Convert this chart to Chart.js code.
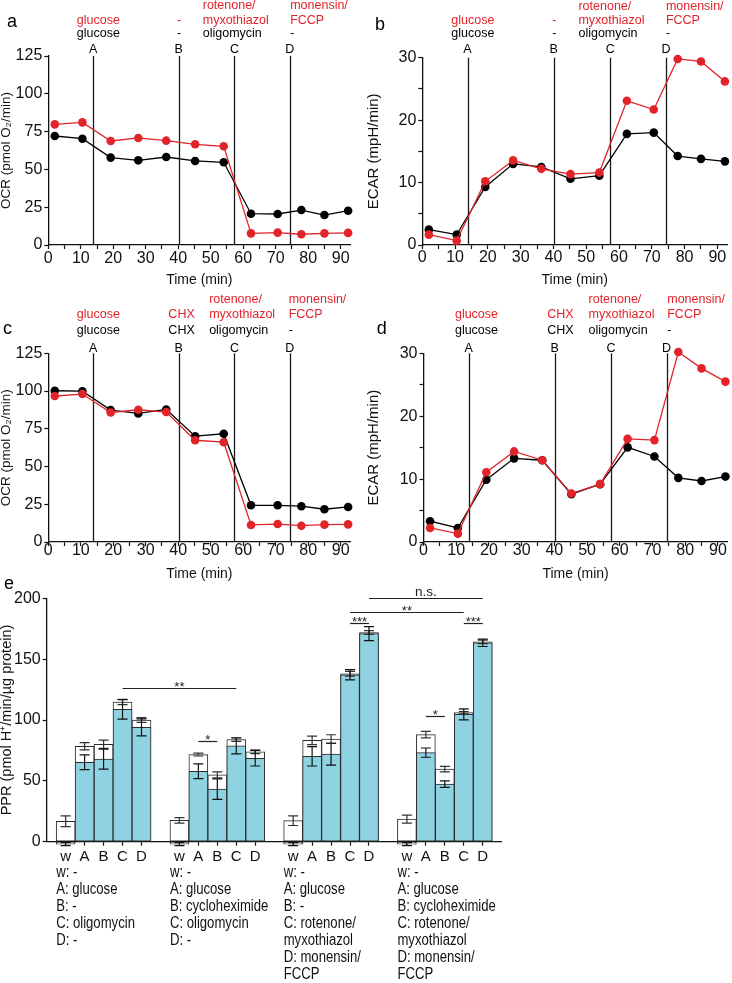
<!DOCTYPE html>
<html><head><meta charset="utf-8"><title>OCR / ECAR / PPR</title>
<script src="https://cdn.jsdelivr.net/npm/chart.js@4.4.1/dist/chart.umd.min.js"></script>
<style>
html,body{margin:0;padding:0;background:#fff}
body{width:732px;height:983px;position:relative;overflow:hidden}
canvas{position:absolute;display:block}
</style></head><body>
<canvas id="ca" width="366" height="290" style="left:0;top:0"></canvas>
<canvas id="cb" width="366" height="290" style="left:366px;top:0"></canvas>
<canvas id="cc" width="366" height="300" style="left:0;top:290px"></canvas>
<canvas id="cd" width="366" height="300" style="left:366px;top:290px"></canvas>
<canvas id="ce" width="732" height="409" style="left:0;top:574px"></canvas>
<script>
// ---------------- data ----------------
const sampleTimes = [2.0, 10.5, 19.2, 27.7, 36.3, 45.2, 54.0, 62.4, 70.6, 77.9, 85.0, 92.3];
const injectionTimes = [13.8, 40.1, 57.3, 74.3];
const injectionPorts = ['A', 'B', 'C', 'D'];

// panel a (OCR)
const ocrOligo_a   = [72.1, 70.3, 57.8, 56.0, 58.2, 55.6, 54.7, 20.7, 20.5, 23.1, 19.8, 22.7];
const ocrRotMyx_a  = [79.8, 81.1, 68.8, 70.8, 69.0, 66.6, 65.3, 7.7, 8.2, 7.1, 7.7, 8.0];
// panel b (ECAR)
const ecarOligo_b  = [2.46, 1.66, 9.3, 13.0, 12.5, 10.6, 11.1, 17.8, 18.0, 14.25, 13.8, 13.4];
const ecarRotMyx_b = [1.66, 0.7, 10.2, 13.55, 12.2, 11.35, 11.6, 23.1, 21.7, 29.8, 29.4, 26.2];
// panel c (OCR, CHX)
const ocrOligo_c   = [100.2, 99.9, 87.4, 85.2, 87.8, 70.1, 71.7, 24.3, 24.3, 23.7, 21.7, 23.2];
const ocrRotMyx_c  = [96.7, 98.0, 85.8, 87.6, 86.1, 67.4, 66.1, 11.3, 11.9, 10.8, 11.5, 11.7];
// panel d (ECAR, CHX)
const ecarOligo_d  = [3.3, 2.23, 9.9, 13.3, 13.0, 7.6, 9.2, 15.05, 13.6, 10.2, 9.7, 10.4];
const ecarRotMyx_d = [2.23, 1.33, 11.1, 14.4, 13.0, 7.7, 9.2, 16.4, 16.2, 30.2, 27.6, 25.5];

const portsRed_ab   = ['glucose', '-', 'rotenone/\nmyxothiazol', 'monensin/\nFCCP'];
const portsBlack_ab = ['glucose', '-', 'oligomycin', '-'];
const portsRed_cd   = ['glucose', 'CHX', 'rotenone/\nmyxothiazol', 'monensin/\nFCCP'];
const portsBlack_cd = ['glucose', 'CHX', 'oligomycin', '-'];

// panel e (PPR)
const pprTickLabels = ['w', 'A', 'B', 'C', 'D'];
const pprTotal_1 = [16.8, 78.4, 80.1, 114.8, 100.0];
const pprTotal_2 = [17.5, 71.6, 54.9, 83.9, 73.8];
const pprTotal_3 = [17.3, 83.3, 84.4, 138.0, 171.9];
const pprTotal_4 = [18.6, 88.0, 59.6, 106.0, 164.2];
const pprTotalErr_1 = [4.4, 3.0, 3.4, 2.1, 1.9];
const pprTotalErr_2 = [2.3, 1.2, 2.5, 1.5, 1.4];
const pprTotalErr_3 = [4.0, 3.5, 3.5, 2.0, 1.5];
const pprTotalErr_4 = [3.3, 2.7, 2.3, 1.0, 1.5];
const pprGlyco_1 = [-2.0, 65.3, 67.8, 108.7, 94.0];
const pprGlyco_2 = [-2.0, 57.9, 43.2, 78.7, 68.6];
const pprGlyco_3 = [-2.0, 70.2, 71.9, 137.2, 171.0];
const pprGlyco_4 = [-2.0, 73.2, 47.3, 104.6, 163.4];
const pprGlycoErr_1 = [1.2, 6.0, 8.2, 8.0, 7.0];
const pprGlycoErr_2 = [1.2, 6.0, 8.5, 6.5, 6.4];
const pprGlycoErr_3 = [1.2, 8.0, 9.0, 4.2, 5.7];
const pprGlycoErr_4 = [1.2, 3.8, 2.6, 4.5, 3.0];

const groupLegend_1 = ['w: -', 'A: glucose', 'B: -', 'C: oligomycin', 'D: -'];
const groupLegend_2 = ['w: -', 'A: glucose', 'B: cycloheximide', 'C: oligomycin', 'D: -'];
const groupLegend_3 = ['w: -', 'A: glucose', 'B: -', 'C: rotenone/', 'myxothiazol', 'D: monensin/', 'FCCP'];
const groupLegend_4 = ['w: -', 'A: glucose', 'B: cycloheximide', 'C: rotenone/', 'myxothiazol', 'D: monensin/', 'FCCP'];

// significance brackets: from / to category index, level (PPR units), label
const sigFrom  = [4, 8, 16, 16, 17, 22, 20];
const sigTo    = [10, 9, 17, 22, 23, 23, 21];
const sigLevel = [126.3, 83.0, 179.5, 189.0, 200.0, 179.7, 103.5];
const sigText  = ['**', '*', '***', '**', 'n.s.', '***', '*'];

// ---------------- styles ----------------
const FONT = '"Liberation Sans", Arial, Helvetica, sans-serif';
const RED = '#e2232a';
const INK = '#111';
const BLUE = '#8fd3e2';

function makeDeco(spec) {
  return {
    id: 'deco_' + spec.panel,
    beforeDatasetsDraw(chart) {
      const {ctx, chartArea} = chart; const xs = chart.scales.x;
      ctx.save(); ctx.strokeStyle = '#1a1a1a'; ctx.lineWidth = 1.3;
      injectionTimes.forEach(t => {
        const x = Math.round(xs.getPixelForValue(t)) + 0.5;
        ctx.beginPath(); ctx.moveTo(x, chartArea.top); ctx.lineTo(x, chartArea.bottom); ctx.stroke();
      });
      ctx.restore();
    },
    afterDraw(chart) {
      const {ctx, chartArea} = chart; const xs = chart.scales.x; const top = chartArea.top;
      ctx.save();
      ctx.font = '12.5px ' + FONT; ctx.textBaseline = 'middle';
      injectionTimes.forEach((t, i) => {
        const x = xs.getPixelForValue(t);
        const an = spec.anchors[i];
        const tx = x + an.dx;
        ctx.textAlign = an.align;
        const rl = spec.portsRed[i].split('\n');
        ctx.fillStyle = RED;
        rl.forEach((s, k) => ctx.fillText(s, tx, top + spec.redY - (rl.length - 1 - k) * 14.5));
        ctx.fillStyle = '#000';
        ctx.fillText(spec.portsBlack[i], tx, top + spec.blackY);
        ctx.textAlign = 'center';
        ctx.fillText(injectionPorts[i], x, top + spec.letterY);
      });
      ctx.font = '18px ' + FONT; ctx.textAlign = 'left'; ctx.textBaseline = 'alphabetic';
      ctx.fillStyle = '#000';
      ctx.fillText(spec.panel, spec.px, spec.py);
      ctx.restore();
    }
  };
}

function linePanel(id, spec) {
  const mk = vals => vals.map((v, i) => ({x: sampleTimes[i], y: v}));
  const ds = (vals, col) => ({
    data: mk(vals), borderColor: col, backgroundColor: col, pointBackgroundColor: col,
    pointBorderColor: col, pointRadius: 4.3, pointBorderWidth: 0, borderWidth: 1.3,
    clip: false, tension: 0
  });
  return new Chart(document.getElementById(id), {
    type: 'line',
    data: {datasets: [ds(spec.red, RED), ds(spec.black, '#000')]},
    options: {
      responsive: false, animation: false, events: [],
      layout: {padding: {left: 0, right: spec.padRight, top: spec.padTop, bottom: 0}},
      plugins: {legend: {display: false}, tooltip: {enabled: false}},
      scales: {
        x: {
          type: 'linear', min: 0, max: 93,
          afterFit: s => { s.height = spec.xAxisH; },
          ticks: {stepSize: 5, includeBounds: false, autoSkip: false, maxRotation: 0, minRotation: 0,
                  padding: spec.xTickPad, color: INK, font: {family: FONT, size: 16, lineHeight: 1},
                  callback: v => (Math.round(v) % 10 === 0 ? String(v) : '')},
          grid: {display: true, drawOnChartArea: false, drawTicks: true, tickLength: 4, tickColor: INK, tickWidth: 1.2},
          border: {display: true, color: INK, width: 1.3},
          title: {display: true, text: 'Time (min)', color: INK, font: {family: FONT, size: 14, lineHeight: 1},
                  padding: {top: 0, bottom: spec.xTitlePad}}
        },
        y: {
          min: 0, max: spec.yMax,
          afterFit: s => { s.width = spec.yAxisW; },
          ticks: {stepSize: spec.yStep, includeBounds: false, autoSkip: false, padding: 2, color: INK,
                  font: {family: FONT, size: 16, lineHeight: 1},
                  callback: v => (Math.round(v) % spec.yEvery === 0 ? String(v) : '')},
          grid: {display: true, drawOnChartArea: false, drawTicks: true, tickLength: 4, tickColor: INK, tickWidth: 1.2},
          border: {display: true, color: INK, width: 1.3},
          title: {display: true, text: spec.yTitle, color: INK, font: {family: FONT, size: spec.yTitleSize, lineHeight: 1},
                  padding: {top: 0, bottom: 0}}
        }
      }
    },
    plugins: [makeDeco(spec)]
  });
}

linePanel('ca', {
  panel: 'a', px: 7, py: 27,
  red: ocrRotMyx_a, black: ocrOligo_a, portsRed: portsRed_ab, portsBlack: portsBlack_ab,
  padTop: 56, padRight: 15.6, yAxisW: 48.3, xAxisH: 45, xTickPad: 1.3, xTitlePad: 3,
  yMax: 125, yStep: 25, yEvery: 25, yTitle: 'OCR (pmol O\u2082/min)', yTitleSize: 13.5,
  redY: -35.5, blackY: -22.5, letterY: -6,
  anchors: [{dx: -16.3, align: 'left'}, {dx: 0.5, align: 'center'}, {dx: -31.7, align: 'left'}, {dx: 0.5, align: 'left'}]
});
linePanel('cb', {
  panel: 'b', px: 9, py: 30,
  red: ecarRotMyx_b, black: ecarOligo_b, portsRed: portsRed_ab, portsBlack: portsBlack_ab,
  padTop: 57.7, padRight: 4.8, yAxisW: 56.3, xAxisH: 45, xTickPad: 1, xTitlePad: 3,
  yMax: 30, yStep: 5, yEvery: 10, yTitle: 'ECAR (mpH/min)', yTitleSize: 15,
  redY: -37, blackY: -24.4, letterY: -7.7,
  anchors: [{dx: -16.3, align: 'left'}, {dx: 0.5, align: 'center'}, {dx: -31.7, align: 'left'}, {dx: 0, align: 'left'}]
});
linePanel('cc', {
  panel: 'c', px: 3, py: 43.5,
  red: ocrRotMyx_c, black: ocrOligo_c, portsRed: portsRed_cd, portsBlack: portsBlack_cd,
  padTop: 63.3, padRight: 15.6, yAxisW: 48.3, xAxisH: 48, xTickPad: -3, xTitlePad: 9,
  yMax: 125, yStep: 25, yEvery: 25, yTitle: 'OCR (pmol O\u2082/min)', yTitleSize: 13.5,
  redY: -39, blackY: -22.3, letterY: -5,
  anchors: [{dx: -16.3, align: 'left'}, {dx: 3, align: 'center'}, {dx: -25.3, align: 'left'}, {dx: -1, align: 'left'}]
});
linePanel('cd', {
  panel: 'd', px: 10.7, py: 43.5,
  red: ecarRotMyx_d, black: ecarOligo_d, portsRed: portsRed_cd, portsBlack: portsBlack_cd,
  padTop: 63.3, padRight: 4.2, yAxisW: 57.5, xAxisH: 48, xTickPad: -3, xTitlePad: 9,
  yMax: 30, yStep: 5, yEvery: 10, yTitle: 'ECAR (mpH/min)', yTitleSize: 15,
  redY: -39, blackY: -22.3, letterY: -5,
  anchors: [{dx: -13.7, align: 'left'}, {dx: 5.7, align: 'center'}, {dx: -22.4, align: 'left'}, {dx: 0.7, align: 'left'}]
});

// ---------------- panel e ----------------
const totals = [pprTotal_1, pprTotal_2, pprTotal_3, pprTotal_4];
const totalErrs = [pprTotalErr_1, pprTotalErr_2, pprTotalErr_3, pprTotalErr_4];
const glycos = [pprGlyco_1, pprGlyco_2, pprGlyco_3, pprGlyco_4];
const glycoErrs = [pprGlycoErr_1, pprGlycoErr_2, pprGlycoErr_3, pprGlycoErr_4];
const legends = [groupLegend_1, groupLegend_2, groupLegend_3, groupLegend_4];

const catLabels = [''], totalData = [null], totalErrData = [null], glycoData = [null], glycoErrData = [null];
const groupStart = [];
for (let g = 0; g < 4; g++) {
  groupStart.push(catLabels.length);
  for (let k = 0; k < 5; k++) {
    catLabels.push(pprTickLabels[k]);
    totalData.push(totals[g][k]); totalErrData.push(totalErrs[g][k]);
    glycoData.push(glycos[g][k]); glycoErrData.push(glycoErrs[g][k]);
  }
  catLabels.push(''); totalData.push(null); totalErrData.push(null); glycoData.push(null); glycoErrData.push(null);
}

// narrow font detection
function narrowAvailable() {
  const c = document.createElement('canvas').getContext('2d');
  c.font = '20px monospace'; const a = c.measureText('B: cycloheximide').width;
  c.font = '20px "Liberation Sans Narrow", monospace'; const b = c.measureText('B: cycloheximide').width;
  return Math.abs(a - b) > 1;
}
const HAS_NARROW = narrowAvailable();

const ePlugin = {
  id: 'ppr',
  afterDatasetsDraw(chart) {
    const {ctx} = chart; const ys = chart.scales.y;
    ctx.save();
    [[1, totalData, totalErrData, '#333'], [0, glycoData, glycoErrData, '#111']].forEach(([di, vals, errs, col]) => {
      const meta = chart.getDatasetMeta(di);
      ctx.strokeStyle = col; ctx.lineWidth = 1.2;
      meta.data.forEach((bar, i) => {
        if (vals[i] == null) return;
        const x = bar.x;
        const y1 = ys.getPixelForValue(vals[i] + errs[i]);
        const y2 = ys.getPixelForValue(vals[i] - errs[i]);
        ctx.beginPath();
        ctx.moveTo(x, y1); ctx.lineTo(x, y2);
        ctx.moveTo(x - 5, y1); ctx.lineTo(x + 5, y1);
        ctx.moveTo(x - 5, y2); ctx.lineTo(x + 5, y2);
        ctx.stroke();
      });
    });
    ctx.restore();
  },
  afterDraw(chart) {
    const {ctx, chartArea} = chart; const xs = chart.scales.x; const ys = chart.scales.y;
    ctx.save();
    // significance brackets
    ctx.strokeStyle = '#222'; ctx.fillStyle = '#222'; ctx.lineWidth = 1.2; ctx.textAlign = 'center';
    sigText.forEach((t, i) => {
      const x1 = xs.getPixelForValue(sigFrom[i]); const x2 = xs.getPixelForValue(sigTo[i]);
      const y = Math.round(ys.getPixelForValue(sigLevel[i])) + 0.5;
      ctx.beginPath(); ctx.moveTo(x1, y); ctx.lineTo(x2, y); ctx.stroke();
      if (t === 'n.s.') {
        ctx.font = '13.5px ' + FONT; ctx.textBaseline = 'alphabetic';
        ctx.fillText(t, (x1 + x2) / 2, y - 2.5);
      } else {
        ctx.font = '13px ' + FONT; ctx.textBaseline = 'alphabetic';
        ctx.fillText(t, (x1 + x2) / 2, y + 2.5);
      }
    });
    // group legends
    const half = (xs.getPixelForValue(1) - xs.getPixelForValue(0)) / 2;
    ctx.fillStyle = '#111'; ctx.textAlign = 'left'; ctx.textBaseline = 'middle';
    legends.forEach((rows, g) => {
      const x0 = xs.getPixelForValue(groupStart[g]) - half;
      rows.forEach((s, r) => {
        const y = chartArea.bottom + 31.3 + r * 17;
        if (HAS_NARROW) {
          ctx.font = '16px "Liberation Sans Narrow", ' + FONT;
          ctx.fillText(s, x0, y);
        } else {
          ctx.save(); ctx.translate(x0, y); ctx.scale(0.82, 1);
          ctx.font = '16px ' + FONT; ctx.fillText(s, 0, 0); ctx.restore();
        }
      });
    });
    ctx.font = '18px ' + FONT; ctx.textBaseline = 'alphabetic'; ctx.fillStyle = '#000';
    ctx.fillText('e', 4, 15);
    ctx.restore();
  }
};

new Chart(document.getElementById('ce'), {
  type: 'bar',
  data: {
    labels: catLabels,
    datasets: [
      {label: 'glycolytic PPR', data: glycoData, order: 0, grouped: false, clip: false,
       backgroundColor: c => (c.raw != null && c.raw < 0 ? '#fff' : BLUE),
       borderColor: '#2b2b2b', borderWidth: 1, borderSkipped: false, barPercentage: 1, categoryPercentage: 1},
      {label: 'total PPR', data: totalData, order: 1, grouped: false, clip: false,
       backgroundColor: '#fff', borderColor: '#2b2b2b', borderWidth: 1, borderSkipped: false,
       barPercentage: 1, categoryPercentage: 1}
    ]
  },
  options: {
    responsive: false, animation: false, events: [],
    layout: {padding: {left: 0, right: 230.3, top: 24.3, bottom: 0}},
    plugins: {legend: {display: false}, tooltip: {enabled: false}},
    scales: {
      x: {
        type: 'category', offset: false, z: 1,
        afterFit: s => { s.height = 141.3; },
        ticks: {autoSkip: false, maxRotation: 0, minRotation: 0, padding: 3.8, color: INK,
                font: {family: FONT, size: 15, lineHeight: 1}},
        grid: {display: true, drawOnChartArea: false, drawTicks: true, tickLength: 4, offset: false,
               tickColor: c => (c.tick && c.tick.label ? INK : 'rgba(0,0,0,0)'), tickWidth: 1.2},
        border: {display: true, color: INK, width: 1.3}
      },
      y: {
        min: 0, max: 200,
        afterFit: s => { s.width = 46.7; },
        ticks: {stepSize: 50, padding: 2, color: INK, font: {family: FONT, size: 16, lineHeight: 1}},
        grid: {display: true, drawOnChartArea: false, drawTicks: true, tickLength: 4, tickColor: INK, tickWidth: 1.2},
        border: {display: true, color: INK, width: 1.3},
        title: {display: true, text: 'PPR (pmol H\u207A/min/\u00B5g protein)', color: INK,
                font: {family: FONT, size: 14.5, lineHeight: 1}, padding: {top: 0, bottom: 0}}
      }
    }
  },
  plugins: [ePlugin]
});
</script>
</body></html>
